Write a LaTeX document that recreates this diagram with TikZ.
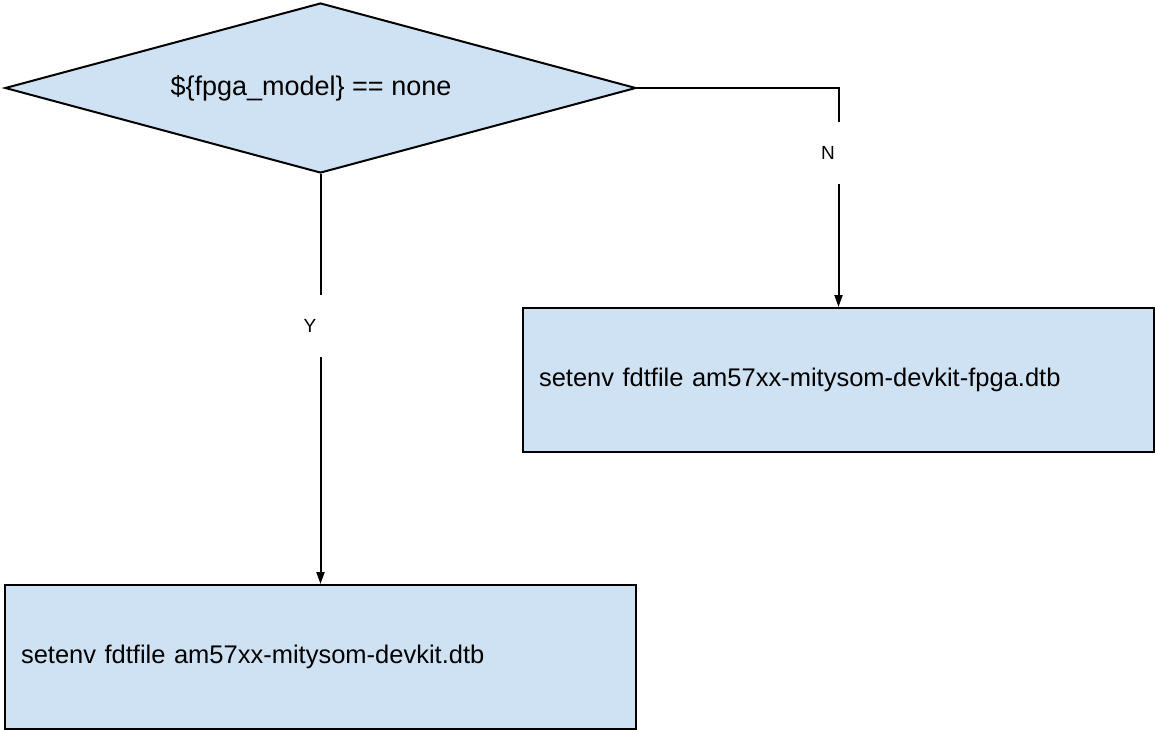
\documentclass[tikz,border=0pt]{standalone}
\usepackage{fontspec}
\setmainfont{Liberation Sans}
\usetikzlibrary{shapes.geometric,arrows.meta}
\definecolor{boxblue}{HTML}{CFE2F3}
\begin{document}
\begin{tikzpicture}[x=1pt,y=-1pt,
  shapebox/.style={draw=black,line width=2pt,fill=boxblue},
  textbox/.style={shapebox,rectangle,anchor=north west,minimum height=144pt,
    text width=599pt,inner xsep=16pt,align=left,font=\fontsize{25.5}{30}\selectfont},
  conn/.style={line width=2pt,-{Triangle[length=12pt,width=8pt]}},
  lbl/.style={fill=white,font=\fontsize{19}{22}\selectfont,minimum height=62pt,inner xsep=14pt}
]
\useasboundingbox (0,0) rectangle (1155,729);
\node[shapebox,diamond,aspect=3.7,minimum width=631pt,minimum height=170pt,inner sep=0pt] (dec) at (320.5,88) {};
\node[font=\fontsize{27}{32}\selectfont,inner sep=0pt] (dectext) at (311,88) {\$\{fpga\_model\} == none};
\node[textbox] (box1) at (522,307) {setenv fdtfile am57xx-mitysom-devkit-fpga.dtb};
\node[textbox] (box2) at (4,584) {setenv fdtfile am57xx-mitysom-devkit.dtb};
\draw[conn] (dec.south) -- (dec.south |- box2.north);
\draw[conn] (dec.east) -- (dec.east -| box1.north) -- (box1.north);
\node[lbl] (ylab) at (310,326) {Y};
\node[lbl] (nlab) at (828,153) {N};
\end{tikzpicture}
\end{document}
